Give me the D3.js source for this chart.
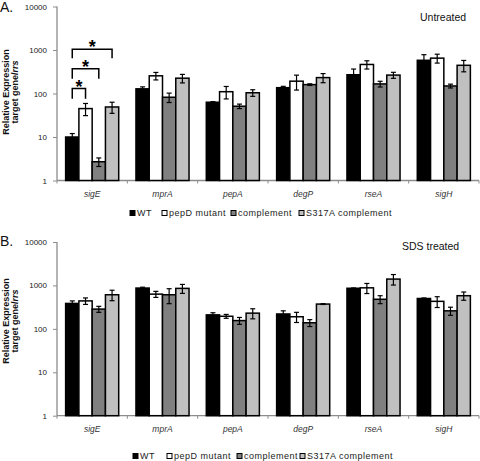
<!DOCTYPE html>
<html>
<head>
<meta charset="utf-8">
<script src="https://cdn.jsdelivr.net/npm/d3@7"></script>
<style>
  html, body { margin: 0; padding: 0; background: #fff; }
  svg { display: block; font-family: "Liberation Sans", Arial, sans-serif; }
</style>
</head>
<body>
<svg id="chart" width="480" height="461"></svg>
<script>
// ---------- data ----------
const categories = ["sigE", "mprA", "pepA", "degP", "rseA", "sigH"];
const seriesNames = ["WT", "pepD mutant", "complement", "S317A complement"];
const seriesColors = ["#000000", "#ffffff", "#808080", "#c0c0c0"];
const yTicks = [1, 10, 100, 1000, 10000];

// Panel A: untreated (means and error half-widths)
const untreatedWT = [10, 128, 63, 136, 270, 580];
const untreatedPepD = [45, 255, 110, 192, 465, 650];
const untreatedComp = [2.7, 82, 51, 160, 166, 149];
const untreatedS317A = [49, 225, 104, 232, 265, 445];
const untreatedWTErr = [2, 14, 2, 10, 95, 200];
const untreatedPepDErr = [14, 50, 35, 72, 100, 150];
const untreatedCompErr = [0.6, 20, 6, 7, 25, 15];
const untreatedS317AErr = [14, 50, 18, 55, 42, 130];

// Panel B: SDS treated
const sdsWT = [385, 870, 210, 220, 860, 500];
const sdsPepD = [440, 630, 195, 190, 880, 430];
const sdsComp = [285, 610, 155, 138, 480, 260];
const sdsS317A = [610, 855, 230, 372, 1400, 580];
const sdsWTErr = [55, 40, 25, 40, 15, 15];
const sdsPepDErr = [75, 100, 20, 50, 230, 120];
const sdsCompErr = [45, 230, 28, 25, 100, 55];
const sdsS317AErr = [165, 200, 60, 8, 380, 125];

// significance brackets in panel A (sigE)
const sigBrackets = [
  { cat: "sigE", from: "WT", to: "pepD mutant", top: 130, bottom: 76 },
  { cat: "sigE", from: "WT", to: "complement", top: 373, bottom: 219 },
  { cat: "sigE", from: "WT", to: "S317A complement", top: 1045, bottom: 648 }
];

// ---------- drawing ----------
const svg = d3.select("#chart");
const axisColor = "#8c8c8c";

function buildRows(means, errs) {
  const rows = [];
  categories.forEach((c, i) => {
    seriesNames.forEach((s, j) => {
      rows.push({ cat: c, series: s, value: means[j][i], err: errs[j][i], color: seriesColors[j] });
    });
  });
  return rows;
}

function drawPanel(cfg) {
  const g = svg.append("g");
  const x0 = d3.scaleBand().domain(categories).range([57, 479]).padding(0);
  const x1 = d3.scaleBand().domain(seriesNames).range([0, x0.bandwidth()]).paddingInner(0).paddingOuter(0.65);
  const y = d3.scaleLog().domain([1, 10000]).range([cfg.bottom, cfg.top]);

  // y axis
  const yAxis = g.append("g").attr("transform", "translate(57,0)")
    .call(d3.axisLeft(y).tickValues(yTicks).tickFormat(d3.format("d")).tickSize(4).tickPadding(6));
  yAxis.select(".domain").attr("stroke", axisColor).attr("stroke-width", 1.3).attr("d", `M0,${cfg.top}V${cfg.bottom}`);
  yAxis.selectAll(".tick line").attr("stroke", axisColor).attr("stroke-width", 1);
  yAxis.selectAll(".tick text").attr("fill", "#222").style("font-size", "8px");

  // x axis (labels)
  const xAxis = g.append("g").attr("transform", `translate(0,${cfg.bottom})`)
    .call(d3.axisBottom(x0).tickSize(0).tickPadding(10));
  xAxis.select(".domain").attr("stroke", axisColor).attr("stroke-width", 1.3).attr("d", `M57,0H479`);
  xAxis.selectAll(".tick text").attr("fill", "#333").style("font-size", "8.5px").style("font-style", "italic");
  // boundary ticks
  const bounds = categories.map(c => x0(c)).concat([x0.range()[1]]);
  g.append("g").selectAll("line").data(bounds).join("line")
    .attr("x1", d => d).attr("x2", d => d)
    .attr("y1", cfg.bottom).attr("y2", cfg.bottom + 3)
    .attr("stroke", axisColor).attr("stroke-width", 1);

  const rows = buildRows(cfg.means, cfg.errs);

  // bars
  g.append("g").selectAll("rect").data(rows).join("rect")
    .attr("x", d => x0(d.cat) + x1(d.series))
    .attr("y", d => y(d.value))
    .attr("width", x1.bandwidth())
    .attr("height", d => cfg.bottom - y(d.value))
    .attr("fill", d => d.color)
    .attr("stroke", "#000").attr("stroke-width", 1.5);

  // error bars
  const eb = g.append("g").attr("stroke", "#000").attr("stroke-width", 1.2);
  rows.forEach(d => {
    const cx = x0(d.cat) + x1(d.series) + x1.bandwidth() / 2;
    const hi = y(d.value + d.err), lo = y(Math.max(d.value - d.err, 1.0001));
    eb.append("line").attr("x1", cx).attr("x2", cx).attr("y1", hi).attr("y2", lo);
    eb.append("line").attr("x1", cx - 2.5).attr("x2", cx + 2.5).attr("y1", hi).attr("y2", hi);
    eb.append("line").attr("x1", cx - 2.5).attr("x2", cx + 2.5).attr("y1", lo).attr("y2", lo);
  });

  // brackets
  if (cfg.brackets) {
    const bg = g.append("g");
    cfg.brackets.forEach(b => {
      const xa = x0(b.cat) + x1(b.from) + x1.bandwidth() / 2;
      const xb = x0(b.cat) + x1(b.to) + x1.bandwidth() / 2;
      const yt = y(b.top), yb = y(b.bottom);
      bg.append("path").attr("d", `M${xa},${yb}V${yt}H${xb}V${yb}`)
        .attr("fill", "none").attr("stroke", "#000").attr("stroke-width", 1.5);
      bg.append("text").attr("x", (xa + xb) / 2).attr("y", yt + 4)
        .attr("text-anchor", "middle").style("font-size", "18px").style("font-weight", "bold")
        .text("*");
    });
  }

  // y label
  const lab = g.append("text").attr("transform", `translate(0,${cfg.labelY}) rotate(-90)`)
    .attr("text-anchor", "middle").style("font-size", "9px").style("font-weight", "bold").attr("fill", "#111");
  lab.append("tspan").attr("x", 0).attr("y", 8.5).text("Relative Expression");
  const l2 = lab.append("tspan").attr("x", 0).attr("y", 17.5).text("target gene/");
  l2.append("tspan").style("font-style", "italic").text("rrs");

  // panel letter
  g.append("text").attr("x", 0).attr("y", cfg.letterY).style("font-size", "14px").attr("fill", "#111").text(cfg.letter);
  // condition title
  g.append("text").attr("x", cfg.titleX).attr("y", cfg.titleY).style("font-size", "10.5px").attr("fill", "#111").text(cfg.title);

  // legend
  const lg = g.append("g");
  seriesNames.forEach((s, j) => {
    const lx = cfg.legendX[j];
    lg.append("rect").attr("x", lx).attr("y", cfg.legendY - 2.5).attr("width", 5).attr("height", 5)
      .attr("fill", seriesColors[j]).attr("stroke", "#000").attr("stroke-width", 1);
    lg.append("text").attr("x", lx + 7).attr("y", cfg.legendY + 3.3)
      .style("font-size", "9px").style("letter-spacing", "0.5px").attr("fill", "#222").text(s);
  });
}

drawPanel({
  top: 6.5, bottom: 180.5,
  means: [untreatedWT, untreatedPepD, untreatedComp, untreatedS317A],
  errs: [untreatedWTErr, untreatedPepDErr, untreatedCompErr, untreatedS317AErr],
  brackets: sigBrackets,
  labelY: 92, letter: "A.", letterY: 12, title: "Untreated", titleX: 420, titleY: 21,
  legendX: [130, 162, 231, 299], legendY: 213
});

drawPanel({
  top: 242, bottom: 415.7,
  means: [sdsWT, sdsPepD, sdsComp, sdsS317A],
  errs: [sdsWTErr, sdsPepDErr, sdsCompErr, sdsS317AErr],
  brackets: null,
  labelY: 321, letter: "B.", letterY: 246, title: "SDS treated", titleX: 402, titleY: 250,
  legendX: [133, 167, 237, 300], legendY: 456
});
</script>
</body>
</html>
